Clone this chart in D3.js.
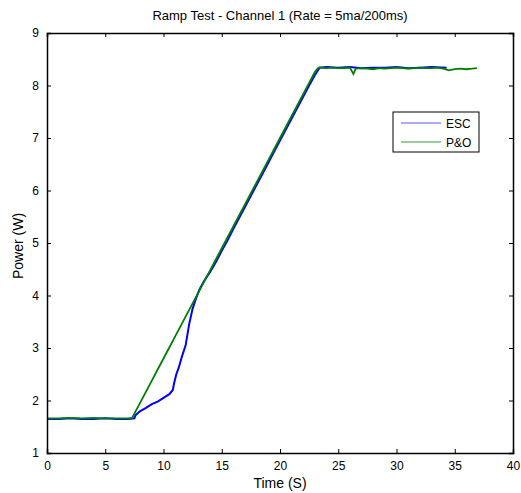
<!DOCTYPE html>
<meta charset="utf-8">
<head>
<script src="https://cdn.jsdelivr.net/npm/d3@7"></script>
<style>
  body { margin: 0; background: #fff; }
  text { font-family: "Liberation Sans", Arial, sans-serif; }
</style>
</head>
<body>
<div id="chart"></div>
<script>
// ESC series: [time (s), power (W)]
const escData = [
  [0,1.65],[1,1.65],[2,1.66],[3,1.65],[4,1.65],[5,1.66],[6,1.65],[7,1.65],[7.5,1.66],
  [7.6,1.72],[8,1.80],[8.5,1.86],[9,1.93],[9.5,1.98],[10,2.05],[10.5,2.12],[10.8,2.20],
  [10.9,2.32],[11.1,2.50],[11.3,2.62],[11.6,2.85],[11.9,3.05],[12.2,3.45],[12.5,3.75],
  [12.8,3.95],[13.1,4.12],[13.5,4.28],[14,4.45],[14.5,4.64],[15,4.85],[15.5,5.05],
  [16,5.27],[16.5,5.48],[17,5.69],[17.5,5.90],[18,6.11],[18.5,6.32],[19,6.53],[19.5,6.74],
  [20,6.95],[20.5,7.16],[21,7.37],[21.5,7.58],[22,7.79],[22.5,8.00],[23,8.20],[23.4,8.34],
  [24,8.35],[25,8.34],[26,8.35],[27,8.33],[28,8.34],[29,8.34],[30,8.35],[31,8.33],
  [32,8.34],[33,8.35],[34.3,8.34]
];

// P&O series: [time (s), power (W)]
const poData = [
  [0,1.66],[1,1.66],[2,1.67],[3,1.66],[4,1.67],[5,1.66],[6,1.66],[7,1.66],[7.3,1.67],
  [7.5,1.75],[8,1.96],[8.5,2.17],[9,2.38],[9.5,2.59],[10,2.80],[10.5,3.01],[11,3.22],
  [11.5,3.43],[12,3.64],[12.5,3.85],[13,4.06],[13.5,4.27],[14,4.48],[14.5,4.69],[15,4.90],
  [15.5,5.11],[16,5.32],[16.5,5.53],[17,5.74],[17.5,5.95],[18,6.16],[18.5,6.37],[19,6.58],
  [19.5,6.79],[20,7.00],[20.5,7.21],[21,7.42],[21.5,7.63],[22,7.84],[22.5,8.05],[23,8.26],
  [23.3,8.34],[23.5,8.34],[24,8.33],[24.5,8.34],[25,8.33],[25.5,8.33],[26,8.34],[26.3,8.22],
  [26.5,8.32],[27,8.33],[27.5,8.32],[28,8.31],[28.5,8.33],[29,8.32],[29.5,8.33],[30,8.34],
  [30.5,8.33],[31,8.32],[31.5,8.33],[32,8.34],[32.5,8.33],[33,8.33],[33.5,8.34],[34,8.32],
  [34.5,8.29],[35,8.31],[35.5,8.32],[36,8.31],[36.5,8.32],[36.9,8.33]
];

const xTicks = [0,5,10,15,20,25,30,35,40];
const yTicks = [1,2,3,4,5,6,7,8,9];
const seriesNames = ["ESC", "P&O"];

const W = 521, H = 493;
const margin = {top: 33, right: 8, bottom: 40, left: 47},
      width = W - margin.left - margin.right,
      height = H - margin.top - margin.bottom;

const svg = d3.select("#chart").append("svg")
    .attr("width", W).attr("height", H);

const g = svg.append("g")
    .attr("transform", `translate(${margin.left},${margin.top})`);

const x = d3.scaleLinear().domain([0, 40]).range([0, width]);
const y = d3.scaleLinear().domain([1, 9]).range([height, 0]);

// lines
const line = d3.line().x(d => x(d[0])).y(d => y(d[1]));
g.append("path").datum(escData)
  .attr("fill", "none").attr("stroke", "#0000ff").attr("stroke-width", 2)
  .attr("d", line);
g.append("path").datum(poData)
  .attr("fill", "none").attr("stroke", "#008000").attr("stroke-width", 1.8)
  .attr("d", line);

// axes (ticks pointing inward, box all round)
g.append("g").attr("transform", `translate(0,${height})`)
  .call(d3.axisBottom(x).tickValues(xTicks).tickSize(-4).tickPadding(8));
g.append("g")
  .call(d3.axisLeft(y).tickValues(yTicks).tickSize(-4).tickPadding(8));
g.append("g")
  .call(d3.axisTop(x).tickValues(xTicks).tickSize(-4).tickFormat(""));
g.append("g").attr("transform", `translate(${width},0)`)
  .call(d3.axisRight(y).tickValues(yTicks).tickSize(-4).tickFormat(""));

g.selectAll(".domain").attr("stroke", "#000").attr("stroke-width", 1.5);
g.selectAll(".tick line").attr("stroke", "#000");
g.selectAll(".tick text").attr("font-size", 12).attr("fill", "#000")
  .style("font-family", "Liberation Sans, Arial, sans-serif");

// title and labels
svg.append("text").attr("x", margin.left + width / 2).attr("y", 20)
  .attr("text-anchor", "middle").attr("font-size", 13).text("Ramp Test - Channel 1 (Rate = 5ma/200ms)");
svg.append("text").attr("x", margin.left + width / 2).attr("y", 488)
  .attr("text-anchor", "middle").attr("font-size", 14).text("Time (S)");
svg.append("text").attr("transform", `translate(23,${margin.top + height / 2 + 3}) rotate(-90)`)
  .attr("text-anchor", "middle").attr("font-size", 14).text("Power (W)");

// legend
const lg = svg.append("g").attr("transform", "translate(393,112)");
lg.append("rect").attr("width", 86).attr("height", 40)
  .attr("fill", "#fff").attr("stroke", "#000").attr("stroke-width", 1);
const legColors = ["#5a5aff", "#3a9a3a"];
seriesNames.forEach((name, i) => {
  const yy = 11 + i * 19;
  lg.append("line").attr("x1", 8).attr("x2", 48).attr("y1", yy).attr("y2", yy)
    .attr("stroke", legColors[i]).attr("stroke-width", 1.2);
  lg.append("text").attr("x", 53).attr("y", yy + 4.5).attr("font-size", 12).text(name);
});
</script>
</body>
